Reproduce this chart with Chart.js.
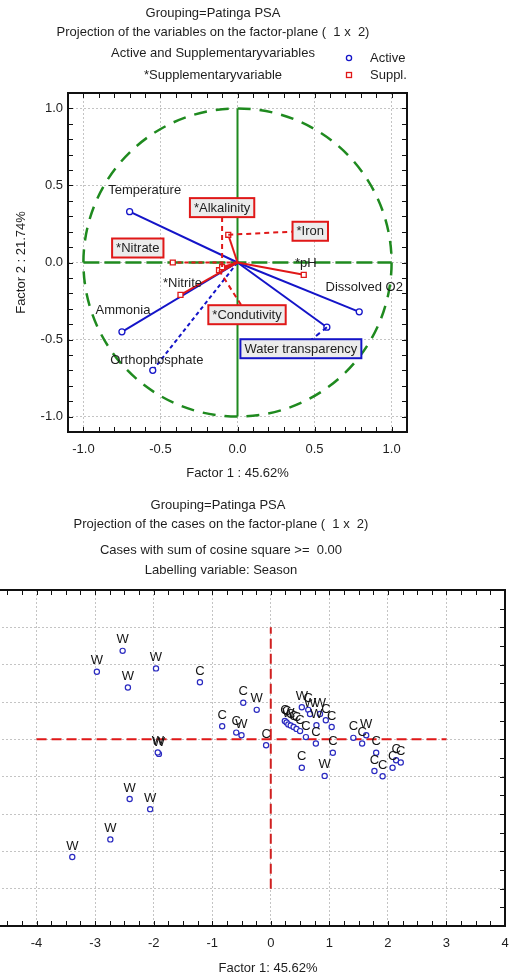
<!DOCTYPE html>
<html>
<head>
<meta charset="utf-8">
<script src="https://cdn.jsdelivr.net/npm/chart.js@4.4.1/dist/chart.umd.min.js"></script>
<style>
  html, body { margin: 0; padding: 0; background: #fff; overflow: hidden; width: 511px; height: 978px; }
  #vars { position: absolute; left: 0; top: 0; }
  #cases { position: absolute; left: -72px; top: 490px; }
</style>
</head>
<body>
<canvas id="vars" width="511" height="490"></canvas>
<canvas id="cases" width="583" height="488"></canvas>
<script>
// variables on factor plane 1 x 2
const activeVars = ['Temperature', 'Ammonia', 'Orthophosphate', 'Dissolved O2', 'Water transparency'];
const activeF1 = [-0.70, -0.75, -0.55, 0.79, 0.58];
const activeF2 = [0.33, -0.45, -0.70, -0.32, -0.42];

const supplVars = ['*Iron', '*Alkalinity', '*Condutivity', '*Nitrate', '*pH', '*Nitrite'];
const supplF1 = [-0.06, -0.10, -0.12, -0.42, 0.43, -0.37];
const supplF2 = [0.18, -0.03, -0.05, 0.00, -0.08, -0.21];

const axisSpan = [-1, 1];

// cases on factor plane, labelled by season
const caseF1 = [-2.53, -2.97, -2.44, -1.96, -1.91, -1.93, -2.41, -2.06, -2.74, -3.39,
  -1.21, -0.47, -0.24, -0.83, -0.59, -0.50, -0.08,
  0.24, 0.27, 0.30, 0.34, 0.39, 0.44, 0.50, 0.60,
  0.53, 0.64, 0.67, 0.84, 0.94, 0.78, 0.77, 1.06, 1.04, 0.53, 0.92,
  1.41, 1.56, 1.63, 1.80, 1.77, 1.91, 2.08, 2.14, 2.22];
const caseF2 = [2.37, 1.81, 1.39, 1.90, -0.39, -0.35, -1.60, -1.87, -2.68, -3.15,
  1.53, 0.98, 0.79, 0.35, 0.18, 0.11, -0.16,
  0.49, 0.45, 0.40, 0.37, 0.33, 0.28, 0.22, 0.06,
  0.86, 0.79, 0.68, 0.68, 0.51, 0.38, -0.11, -0.36, 0.33, -0.76, -0.98,
  0.04, -0.11, 0.11, -0.36, -0.85, -0.99, -0.76, -0.56, -0.62];
const caseSeason = ['W','W','W','W','W','W','W','W','W','W',
  'C','C','W','C','C','W','C',
  'C','C','W','C','C','C','C','C',
  'W','C','W','W','C','W','C','C','C','C','W',
  'C','C','W','C','C','C','C','C','C'];

const refLineX = [-4, 3];
const refLineY = [-4, 3];

const FONT = '"Liberation Sans", Arial, sans-serif';
const ink = '#1e1e1e';
const green = '#1f8a1f';
const blue = '#1414c8';
const red = '#e01818';

// where each variable label sits relative to its point (pixels)
const labelPlace = {
  'Temperature': {dx: 15, dy: -22},
  'Ammonia': {dx: 1, dy: -22},
  'Orthophosphate': {dx: 4, dy: -11},
  'Dissolved O2': {dx: 5, dy: -25},
  'Water transparency': {dx: -26, dy: 21, box: blue, leader: true},
  '*Iron': {dx: 82, dy: -4, box: red, leader: true},
  '*Alkalinity': {dx: 0, dy: -60, box: red, leader: true},
  '*Condutivity': {dx: 28, dy: 44, box: red, leader: true},
  '*Nitrate': {dx: -35, dy: -15, box: red},
  '*pH': {dx: 2, dy: -12},
  '*Nitrite': {dx: 2, dy: -12}
};

function vector(name, x, y, color, marker, dashed) {
  return {
    label: name,
    data: [{x: 0, y: 0}, {x: x, y: y}],
    showLine: true,
    borderColor: color,
    borderWidth: 2,
    borderDash: dashed ? [4, 3] : [],
    pointRadius: [0, marker === 'rect' ? 3.5 : 3],
    pointStyle: marker,
    pointBorderColor: color,
    pointBackgroundColor: '#fff',
    pointBorderWidth: 1.3,
    order: 1
  };
}

function frameAndTicks(chart, xs, ys) {
  const {ctx, chartArea: a, scales: {x, y}} = chart;
  ctx.save();
  ctx.strokeStyle = '#111';
  ctx.lineWidth = 1;
  ctx.beginPath();
  for (let k = Math.ceil(x.min / xs - 1e-6); k * xs <= x.max + 1e-6; k++) {
    const px = Math.round(x.getPixelForValue(k * xs)) + 0.5;
    ctx.moveTo(px, a.top); ctx.lineTo(px, a.top + 5);
    ctx.moveTo(px, a.bottom); ctx.lineTo(px, a.bottom - 5);
  }
  for (let k = Math.ceil(y.min / ys - 1e-6); k * ys <= y.max + 1e-6; k++) {
    const py = Math.round(y.getPixelForValue(k * ys)) + 0.5;
    ctx.moveTo(a.left, py); ctx.lineTo(a.left + 5, py);
    ctx.moveTo(a.right, py); ctx.lineTo(a.right - 5, py);
  }
  ctx.stroke();
  ctx.lineWidth = 2;
  ctx.strokeRect(a.left, a.top, a.right - a.left, a.bottom - a.top);
  ctx.restore();
}

function writeLines(ctx, lines) {
  ctx.save();
  ctx.fillStyle = ink;
  ctx.font = '13px ' + FONT;
  ctx.textBaseline = 'middle';
  lines.forEach(l => {
    ctx.textAlign = l.align || 'center';
    ctx.fillText(l.text, l.x, l.y);
  });
  ctx.restore();
}

function tag(ctx, text, cx, cy, box) {
  ctx.font = '13px ' + FONT;
  const w = ctx.measureText(text).width;
  if (box) {
    ctx.fillStyle = '#ececec';
    ctx.fillRect(cx - w / 2 - 4, cy - 9, w + 8, 19);
    ctx.strokeStyle = box;
    ctx.lineWidth = 2;
    ctx.setLineDash([]);
    ctx.strokeRect(cx - w / 2 - 4, cy - 9, w + 8, 19);
  }
  ctx.fillStyle = ink;
  ctx.textAlign = 'center';
  ctx.textBaseline = 'middle';
  ctx.fillText(text, cx, cy + 1);
}

const varsDecor = {
  id: 'varsDecor',
  beforeDatasetsDraw(chart) {
    const {ctx, scales: {x, y}} = chart;
    const cx = x.getPixelForValue(0), cy = y.getPixelForValue(0);
    ctx.save();
    ctx.strokeStyle = green;
    ctx.lineWidth = 2.5;
    ctx.setLineDash([13, 9]);
    ctx.beginPath();
    ctx.ellipse(cx, cy, x.getPixelForValue(1) - cx, cy - y.getPixelForValue(1), 0, 0, Math.PI * 2);
    ctx.stroke();
    ctx.restore();
  },
  afterDatasetsDraw(chart) {
    const ctx = chart.ctx;
    const placed = [];
    chart.data.datasets.forEach((ds, i) => {
      const p = labelPlace[ds.label];
      if (!p) return;
      const pt = chart.getDatasetMeta(i).data[1];
      placed.push({text: ds.label, px: pt.x, py: pt.y, cx: pt.x + p.dx, cy: pt.y + p.dy, p: p, color: ds.borderColor});
    });
    ctx.save();
    placed.filter(o => o.p.leader).forEach(o => {
      ctx.strokeStyle = o.color;
      ctx.lineWidth = 2;
      ctx.setLineDash([5, 4]);
      ctx.beginPath();
      ctx.moveTo(o.px, o.py);
      ctx.lineTo(o.cx, o.cy);
      ctx.stroke();
    });
    ctx.setLineDash([]);
    placed.forEach(o => tag(ctx, o.text, o.cx, o.cy, o.p.box));
    ctx.restore();
  },
  afterDraw(chart) {
    frameAndTicks(chart, 0.1, 0.1);
    const ctx = chart.ctx;
    writeLines(ctx, [
      {text: 'Grouping=Patinga PSA', x: 213, y: 13},
      {text: 'Projection of the variables on the factor-plane (  1 x  2)', x: 213, y: 32},
      {text: 'Active and Supplementaryvariables', x: 213, y: 53},
      {text: '*Supplementaryvariable', x: 213, y: 75},
      {text: 'Active', x: 370, y: 58, align: 'left'},
      {text: 'Suppl.', x: 370, y: 75, align: 'left'}
    ]);
    ctx.save();
    ctx.lineWidth = 1.3;
    ctx.strokeStyle = blue;
    ctx.beginPath();
    ctx.arc(349, 58, 2.6, 0, Math.PI * 2);
    ctx.stroke();
    ctx.strokeStyle = red;
    ctx.strokeRect(346.5, 72.5, 5, 5);
    ctx.restore();
  }
};

const varsData = [
  {data: axisSpan.map(v => ({x: 0, y: v})), showLine: true, borderColor: green, borderWidth: 2, pointRadius: 0, order: 10},
  {data: axisSpan.map(v => ({x: v, y: 0})), showLine: true, borderColor: green, borderWidth: 2.5, borderDash: [16, 5], pointRadius: 0, order: 10}
];
supplVars.forEach((n, i) => varsData.push(vector(n, supplF1[i], supplF2[i], red, 'rect', n === '*Nitrate')));
activeVars.forEach((n, i) => varsData.push(vector(n, activeF1[i], activeF2[i], blue, 'circle', n === 'Orthophosphate')));

const tickFont = {family: FONT, size: 13};

// keep the plot box where it is; no extra room for edge tick labels
const fixX = h => s => { s.height = h; s.paddingLeft = 0; s.paddingRight = 0; };
const fixY = w => s => { s.width = w; s.paddingTop = 0; s.paddingBottom = 0; };

new Chart(document.getElementById('vars'), {
  type: 'scatter',
  data: {datasets: varsData},
  options: {
    responsive: false,
    animation: false,
    devicePixelRatio: 1,
    layout: {padding: {left: 0, top: 93, right: 104, bottom: 0}},
    plugins: {legend: {display: false}, tooltip: {enabled: false}},
    scales: {
      x: {
        min: -1.1, max: 1.1,
        afterFit: fixX(58),
        ticks: {stepSize: 0.5, includeBounds: false, color: ink, font: tickFont, padding: 10, callback: v => v.toFixed(1)},
        grid: {color: '#c4c4c4', drawTicks: false},
        border: {display: false, dash: [2, 2]},
        title: {display: true, text: 'Factor 1 : 45.62%', color: ink, font: tickFont, padding: {top: 0, bottom: 9}}
      },
      y: {
        min: -1.1, max: 1.1,
        afterFit: fixY(68),
        ticks: {stepSize: 0.5, includeBounds: false, color: ink, font: tickFont, padding: 5, callback: v => v.toFixed(1)},
        grid: {color: '#c4c4c4', drawTicks: false},
        border: {display: false, dash: [2, 2]},
        title: {display: true, text: 'Factor 2 : 21.74%', color: ink, font: tickFont, padding: {top: 14, bottom: 0}}
      }
    }
  },
  plugins: [varsDecor]
});

// page position of the cases canvas
const offX = 72, offY = -490;

const casesDecor = {
  id: 'casesDecor',
  afterDatasetsDraw(chart) {
    const ctx = chart.ctx;
    const pts = chart.getDatasetMeta(2).data;
    ctx.save();
    ctx.fillStyle = '#141414';
    ctx.font = '13px ' + FONT;
    ctx.textAlign = 'center';
    ctx.textBaseline = 'middle';
    pts.forEach((pt, i) => ctx.fillText(caseSeason[i], pt.x, pt.y - 11));
    ctx.restore();
  },
  afterDraw(chart) {
    frameAndTicks(chart, 0.25, 0.5);
    writeLines(chart.ctx, [
      {text: 'Grouping=Patinga PSA', x: 218 + offX, y: 505 + offY},
      {text: 'Projection of the cases on the factor-plane (  1 x  2)', x: 221 + offX, y: 524 + offY},
      {text: 'Cases with sum of cosine square >=  0.00', x: 221 + offX, y: 550 + offY},
      {text: 'Labelling variable: Season', x: 221 + offX, y: 570 + offY},
      {text: 'Factor 1: 45.62%', x: 268 + offX, y: 968 + offY}
    ]);
  }
};

new Chart(document.getElementById('cases'), {
  type: 'scatter',
  data: {
    datasets: [
      {data: refLineX.map(v => ({x: v, y: 0})), showLine: true, borderColor: red, borderWidth: 2, borderDash: [10, 5], pointRadius: 0, order: 5},
      {data: refLineY.map(v => ({x: 0, y: v})), showLine: true, borderColor: '#d02020', borderWidth: 2, borderDash: [10, 5], pointRadius: 0, order: 5},
      {
        label: 'Cases',
        data: caseF1.map((v, i) => ({x: v, y: caseF2[i]})),
        pointRadius: 2.6,
        pointBorderWidth: 1.2,
        pointBorderColor: '#2a2ac0',
        pointBackgroundColor: '#fff',
        order: 1
      }
    ]
  },
  options: {
    responsive: false,
    animation: false,
    devicePixelRatio: 1,
    layout: {padding: {left: 0, top: 100, right: 6, bottom: 0}},
    plugins: {legend: {display: false}, tooltip: {enabled: false}},
    scales: {
      x: {
        min: -5, max: 4,
        afterFit: fixX(52),
        ticks: {stepSize: 1, color: ink, font: tickFont, padding: 10},
        grid: {color: '#c4c4c4', drawTicks: false},
        border: {display: false, dash: [2, 2]}
      },
      y: {
        min: -5, max: 4,
        afterFit: fixY(50),
        ticks: {stepSize: 1, color: ink, font: tickFont, padding: 5},
        grid: {color: '#c4c4c4', drawTicks: false},
        border: {display: false, dash: [2, 2]}
      }
    }
  },
  plugins: [casesDecor]
});
</script>
</body>
</html>
